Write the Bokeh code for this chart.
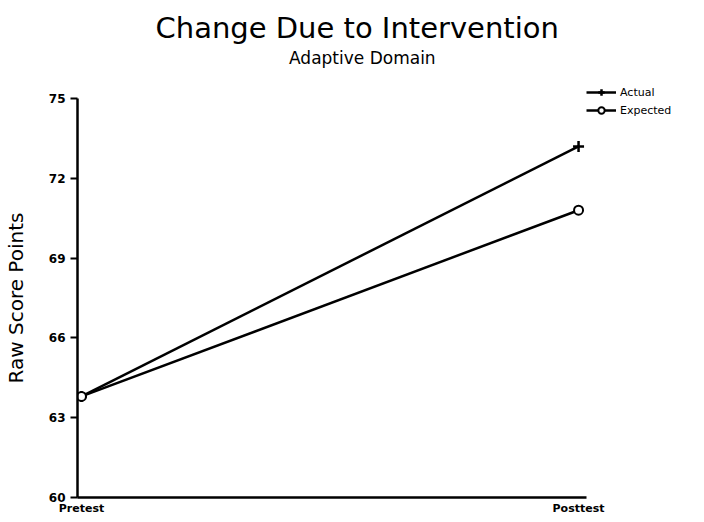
from bokeh.plotting import figure
from bokeh.models import Range1d, Title, Legend, LegendItem, FixedTicker, LinearAxis
from bokeh.embed import file_html
from bokeh.resources import INLINE

categories = ["Pretest", "Posttest"]
x_pos = [0, 1]
actual = [63.8, 73.2]
expected = [63.8, 70.8]
y_ticks = [60, 63, 66, 69, 72, 75]
main_title = "Change Due to Intervention"
sub_title = "Adaptive Domain"

FONT = "DejaVu Sans"

p = figure(frame_width=509, frame_height=399, output_backend="svg", toolbar_location=None,
           x_range=Range1d(-0.008, 1.016), y_range=Range1d(60, 75),
           min_border_left=76, min_border_right=115, min_border_top=98,
           min_border_bottom=23, title=None)
p.outline_line_color = None
p.grid.visible = False
p.background_fill_color = "white"

# Subtitle: an unlined axis above the frame, whose one label is the subtitle
sub_anchor = 0.565
sub_axis = LinearAxis(ticker=FixedTicker(ticks=[sub_anchor]),
                      major_label_overrides={sub_anchor: sub_title},
                      axis_line_color=None, major_tick_line_color=None,
                      minor_tick_line_color=None, major_label_standoff=25,
                      major_label_text_font=FONT, major_label_text_font_size="17px",
                      major_label_text_color="black")
p.add_layout(sub_axis, "above")
p.add_layout(Title(text=main_title, text_font=FONT,
                   text_font_size="29px", text_font_style="normal", align="left",
                   offset=78, standoff=0, text_color="black"), "above")

l1 = p.line(x_pos, actual, line_color="black", line_width=2.5)
m1 = p.scatter(x_pos, actual, marker="cross", size=11, line_color="black", line_width=2.5)
l2 = p.line(x_pos, expected, line_color="black", line_width=2.5)
m2 = p.scatter(x_pos, expected, marker="circle", size=9, line_color="black",
               fill_color="white", line_width=2)

# Axes
p.yaxis.ticker = FixedTicker(ticks=y_ticks)
p.yaxis.minor_tick_line_color = None
p.yaxis.major_tick_out = 7
p.yaxis.major_tick_in = 0
p.yaxis.major_tick_line_width = 2
p.yaxis.axis_line_width = 2.5
p.yaxis.axis_line_color = "black"
p.yaxis.major_label_text_font = FONT
p.yaxis.major_label_text_font_size = "12px"
p.yaxis.major_label_text_font_style = "bold"
p.yaxis.major_label_text_color = "black"
p.yaxis.major_label_standoff = 5
p.yaxis.axis_label = "Raw Score Points"
p.yaxis.axis_label_text_font = FONT
p.yaxis.axis_label_text_font_size = "20px"
p.yaxis.axis_label_text_font_style = "normal"
p.yaxis.axis_label_text_color = "black"
p.yaxis.axis_label_standoff = 18

xax = p.below[0]
xax.ticker = FixedTicker(ticks=x_pos)
xax.major_label_overrides = {x: c for x, c in zip(x_pos, categories)}
xax.minor_tick_line_color = None
xax.major_tick_out = 0
xax.major_tick_in = 0
xax.axis_line_width = 2.5
xax.axis_line_color = "black"
xax.major_label_text_font = FONT
xax.major_label_text_font_size = "11px"
xax.major_label_text_font_style = "bold"
xax.major_label_text_color = "black"
xax.major_label_standoff = 4

legend = Legend(items=[LegendItem(label="Actual", renderers=[l1, m1]),
                       LegendItem(label="Expected", renderers=[l2, m2])],
                location=(0, 379), border_line_color=None,
                background_fill_alpha=0, padding=0, margin=0, spacing=2,
                glyph_width=30, glyph_height=16, label_standoff=4,
                label_text_font=FONT, label_text_font_size="11px",
                label_text_color="black")
p.add_layout(legend, "right")

open("out.html", "w").write(file_html(p, INLINE))
